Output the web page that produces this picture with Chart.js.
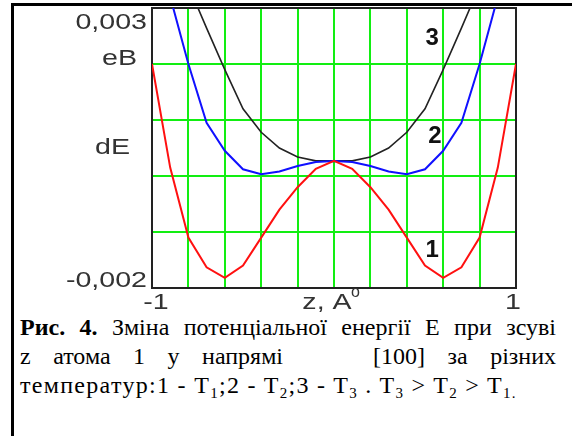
<!DOCTYPE html>
<html>
<head>
<meta charset="utf-8">
<script src="https://cdn.jsdelivr.net/npm/chart.js@4.4.1/dist/chart.umd.min.js"></script>
<style>
  body { margin: 0; background: #fff; }
  #page { position: relative; width: 572px; height: 436px; overflow: hidden; background: #fff; }
  #frame-top { position: absolute; left: 11px; top: 3px; width: 561px; height: 3px; background: #000; }
  #frame-left { position: absolute; left: 11px; top: 3px; width: 3px; height: 433px; background: #000; }
  #chart-box { position: absolute; left: 0; top: 0; width: 572px; height: 312px; }
  .cap {
    position: absolute; left: 20px; width: 536px;
    font-family: "Liberation Serif", "Times New Roman", serif;
    font-size: 24px; line-height: 28px; color: #000; white-space: nowrap;
  }
  .just { text-align: justify; text-align-last: justify; white-space: normal; }
  .cap sub { font-size: 15px; vertical-align: -5px; line-height: 0; }
</style>
</head>
<body>
<div id="page">
  <div id="chart-box"><canvas id="energy-chart" width="572" height="312"></canvas></div>
  <div id="frame-top"></div>
  <div id="frame-left"></div>
  <div class="cap just" style="top:313px"><b>Рис. 4.</b> Зміна потенціальної енергії Е при зсуві</div>
  <div class="cap just" style="top:342px">z атома 1 у напрямі &nbsp;&nbsp; [100] за різних</div>
  <div class="cap" style="top:371px; letter-spacing:1.3px">температур:1 - T<sub>1</sub>;2 - T<sub>2</sub>;3 - T<sub>3</sub> . T<sub>3</sub> &gt; T<sub>2</sub> &gt; T<sub>1.</sub></div>
</div>
<script>
// Energy vs displacement z

const zValues = [-1, -0.9, -0.8, -0.7, -0.6, -0.5, -0.4, -0.3, -0.2, -0.1, 0,
  0.1, 0.2, 0.3, 0.4, 0.5, 0.6, 0.7, 0.8, 0.9, 1];
const energyT1 = [0.002, 0.00015, -0.0011, -0.00163, -0.00182, -0.0016, -0.0011, -0.0006, -0.0002, 0.00013, 0.00027,
  0.00013, -0.0002, -0.0006, -0.0011, -0.0016, -0.00182, -0.00163, -0.0011, 0.00015, 0.002];
const energyT2 = [0.0046, 0.0032, 0.002, 0.00095, 0.00045, 0.00012, 0.00003, 0.00008, 0.00018, 0.00025, 0.00027,
  0.00025, 0.00018, 0.00008, 0.00003, 0.00012, 0.00045, 0.00095, 0.002, 0.0032, 0.0046];
const energyT3 = [0.0062, 0.0047, 0.0034, 0.00264, 0.0019, 0.0012, 0.00078, 0.0005, 0.00034, 0.00027, 0.00027,
  0.00027, 0.00034, 0.0005, 0.00078, 0.0012, 0.0019, 0.00264, 0.0034, 0.0047, 0.0062];

const yTickLabels = ["0,003", "eB", "dE", "-0,002"];
const xTickLabels = ["-1", "z, A", "1"];
const curveLabels = ["1", "2", "3"];
const curveLabelPos = [[0.54, -0.00132], [0.555, 0.0007], [0.54, 0.00246]];

function toPoints(ys) {
  return zValues.map((z, i) => ({ x: z, y: ys[i] }));
}

// black frame around plot area, drawn before the curves
const framePlugin = {
  id: "frame",
  beforeDatasetsDraw(chart) {
    const { ctx, chartArea: a } = chart;
    ctx.save();
    ctx.strokeStyle = "#222";
    ctx.lineWidth = 2;
    ctx.strokeRect(a.left, a.top, a.right - a.left, a.bottom - a.top);
    ctx.restore();
  },
};

// the old bitmap font is wider than Liberation Sans, so stretch it
function wideText(ctx, text, x, y, align) {
  const sx = 1.3;
  const w = ctx.measureText(text).width * sx;
  let left = x;
  if (align === "right") left = x - w;
  if (align === "center") left = x - w / 2;
  ctx.save();
  ctx.translate(left, y);
  ctx.scale(sx, 1);
  ctx.textAlign = "left";
  ctx.fillText(text, 0, 0);
  ctx.restore();
}

const labelPlugin = {
  id: "labels",
  afterDraw(chart) {
    const { ctx, chartArea: a } = chart;
    const xs = chart.scales.x;
    const ys = chart.scales.y;
    const font = "22px 'Liberation Sans', Arial, sans-serif";
    ctx.save();
    ctx.fillStyle = "#333";
    ctx.textBaseline = "middle";
    ctx.font = font;
    const rx = a.left - 5;
    wideText(ctx, yTickLabels[0], rx, a.top + 15, "right");
    wideText(ctx, yTickLabels[1], rx - 10, ys.getPixelForValue(0.002) - 5, "right");
    wideText(ctx, yTickLabels[2], rx - 17, ys.getPixelForValue(0.0005), "right");
    wideText(ctx, yTickLabels[3], rx, a.bottom - 7, "right");

    const by = a.bottom + 15;
    wideText(ctx, xTickLabels[0], xs.getPixelForValue(-1) + 4, by, "center");
    wideText(ctx, xTickLabels[1], xs.getPixelForValue(0) - 7, by, "center");
    ctx.font = "16px 'Liberation Sans', Arial, sans-serif";
    ctx.fillText("o", xs.getPixelForValue(0) + 17, by - 10);
    ctx.font = font;
    wideText(ctx, xTickLabels[2], xs.getPixelForValue(1) - 3, by, "center");

    ctx.fillStyle = "#111";
    ctx.font = "bold 24px 'Liberation Sans', Arial, sans-serif";
    ctx.textAlign = "center";
    curveLabels.forEach((t, i) => {
      const p = curveLabelPos[i];
      ctx.fillText(t, xs.getPixelForValue(p[0]), ys.getPixelForValue(p[1]));
    });
    ctx.restore();
  },
};

const energyCtx = document.getElementById("energy-chart").getContext("2d");
const energyChart = new Chart(energyCtx, {
  type: "line",
  data: {
    datasets: [
      { label: "T1", data: toPoints(energyT1), borderColor: "#ff1010", borderWidth: 2, pointRadius: 0, tension: 0 },
      { label: "T2", data: toPoints(energyT2), borderColor: "#1010ff", borderWidth: 2, pointRadius: 0, tension: 0 },
      { label: "T3", data: toPoints(energyT3), borderColor: "#222222", borderWidth: 1.6, pointRadius: 0, tension: 0 },
    ],
  },
  options: {
    responsive: false,
    animation: false,
    layout: { padding: { left: 152, top: 8, right: 56, bottom: 24 } },
    plugins: { legend: { display: false }, tooltip: { enabled: false } },
    scales: {
      x: {
        type: "linear",
        min: -1,
        max: 1,
        ticks: { display: false, stepSize: 0.2 },
        border: { display: false },
        grid: {
          drawTicks: false,
          lineWidth: 2,
          color: (c) => (Math.abs(Math.abs(c.tick.value) - 1) < 1e-9 ? "rgba(0,0,0,0)" : "#12ee12"),
        },
      },
      y: {
        min: -0.002,
        max: 0.003,
        ticks: { display: false, stepSize: 0.001 },
        border: { display: false },
        grid: {
          drawTicks: false,
          lineWidth: 2,
          color: (c) => (c.tick.value <= -0.002 + 1e-9 || c.tick.value >= 0.003 - 1e-9 ? "rgba(0,0,0,0)" : "#12ee12"),
        },
      },
    },
  },
  plugins: [framePlugin, labelPlugin],
});
</script>
</body>
</html>
